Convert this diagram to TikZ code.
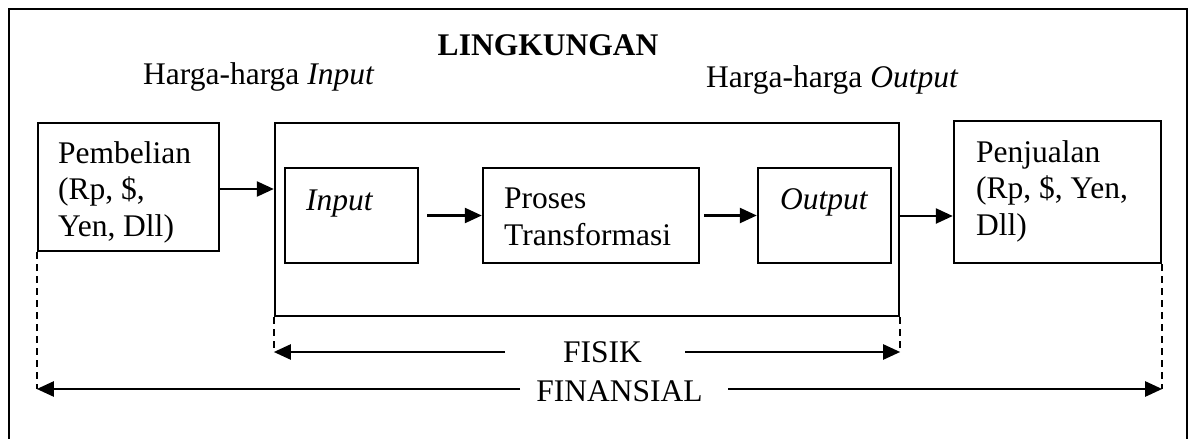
\documentclass[tikz,border=0pt]{standalone}
\usepackage{fontspec}
\setmainfont{Liberation Serif}
\usetikzlibrary{arrows.meta}
\begin{document}
\begin{tikzpicture}[x=1pt,y=-1pt,
  every node/.style={font=\fontsize{31.5}{36.5}\selectfont, inner sep=0pt},
  box/.style={draw, line width=2.4pt, rectangle},
  txt/.style={anchor=base west, align=left},
  conn/.style={line width=2.4pt, -{Triangle[length=17pt,width=15pt]}},
  guide/.style={line width=2.2pt, dash pattern=on 7pt off 5pt}]
\useasboundingbox (0,0) rectangle (1195,439);
% outer frame
\draw[line width=2.4pt] (9,460) -- (9,9) -- (1187,9) -- (1187,460);
% boxes
\node[box, minimum width=181, minimum height=128] (pemb) at (128.5,187) {};
\node[box, minimum width=624, minimum height=193] (big) at (587,219.5) {};
\node[box, minimum width=133, minimum height=95] (inp) at (351.5,215.5) {};
\node[box, minimum width=216, minimum height=95] (proc) at (591,215.5) {};
\node[box, minimum width=133, minimum height=95] (outp) at (824.5,215.5) {};
\node[box, minimum width=207, minimum height=142] (penj) at (1057.5,192) {};
% texts (multi-line nodes: base = last line)
\node[anchor=base] (ling) at (548,55) {\bfseries LINGKUNGAN};
\node[txt] (hin) at (143,84) {Harga-harga \textit{Input}};
\node[txt] (hout) at (706,87) {Harga-harga \textit{Output}};
\node[txt] (tpemb) at (58,236) {Pembelian\\(Rp, \$,\\Yen, Dll)};
\node[txt] (tpenj) at (976,235) {Penjualan\\(Rp, \$, Yen,\\Dll)};
\node[txt] (tinp) at (306,210) {\textit{Input}};
\node[txt] (tproc) at (504,245) {Proses\\Transformasi};
\node[txt] (toutp) at (780,209) {\textit{Output}};
\node[anchor=base] (fisik) at (602.5,362) {FISIK};
\node[anchor=base] (finan) at (619.5,401) {FINANSIAL};
% flow arrows
\draw[conn] (pemb.east |- 0,189) -- (big.west |- 0,189);
\draw[conn] ([xshift=8pt]inp.east) -- (proc.west);
\draw[conn] ([xshift=4pt]proc.east) -- (outp.west);
\draw[conn] (big.east |- 0,216) coordinate (bo) -- (penj.west |- bo);
% dashed guides
\coordinate (fiL) at (big.south west |- 0,352);
\coordinate (fiR) at (big.south east |- 0,352);
\coordinate (faL) at (pemb.south west |- 0,389);
\coordinate (faR) at (penj.south east |- 0,389);
\draw[guide] (big.south west) -- (fiL);
\draw[guide] (big.south east) -- (fiR);
\draw[guide] (pemb.south west) -- (faL);
\draw[guide] (penj.south east) -- (faR);
% dimension arrows
\draw[conn] (505,352) -- (fiL);
\draw[conn] (685,352) -- (fiR);
\draw[conn] (520,389) -- (faL);
\draw[conn] (728,389) -- (faR);
\end{tikzpicture}
\end{document}
